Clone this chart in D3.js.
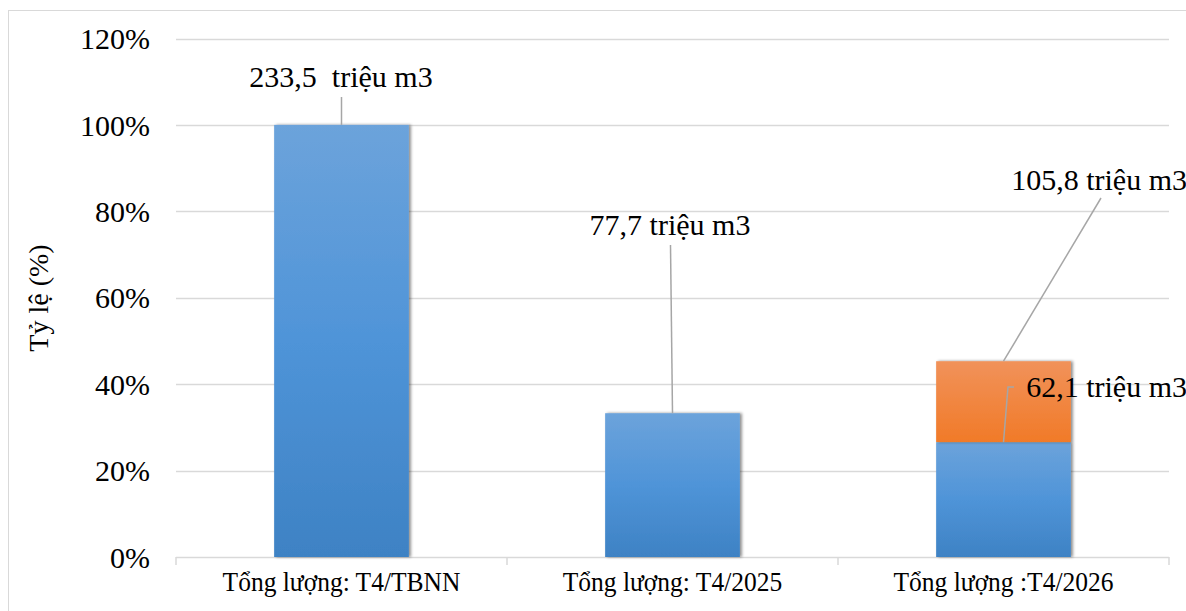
<!DOCTYPE html>
<html><head><meta charset="utf-8">
<script src="https://cdn.jsdelivr.net/npm/d3@7"></script>
<style>body{margin:0;background:#fff}svg{display:block}</style>
</head><body><svg id="c" width="1186" height="611"></svg>
<script>
const categories = ["Tổng lượng: T4/TBNN", "Tổng lượng: T4/2025", "Tổng lượng :T4/2026"];
const volumes = [233.5, 77.7, 62.1];          // triệu m3, blue series
const totalT4_2026 = 105.8;                    // triệu m3, orange top of stack
const baseVolume = 233.5;
const blueLabels = ["233,5  triệu m3", "77,7 triệu m3", "62,1 triệu m3"];
const orangeLabel = "105,8 triệu m3";
const yTicks = [0, 0.2, 0.4, 0.6, 0.8, 1.0, 1.2];

(function(){
const FF = "'Liberation Serif', 'Times New Roman', serif";
const bluePct = volumes.map(v => v / baseVolume);
const orangeTopPct = totalT4_2026 / baseVolume;

const svg = d3.select("#c");
const defs = svg.append("defs");
const gb = defs.append("linearGradient").attr("id","gb").attr("x1",0).attr("y1",0).attr("x2",0).attr("y2",1);
gb.append("stop").attr("offset","0").attr("stop-color","#6ca3db");
gb.append("stop").attr("offset","0.5").attr("stop-color","#4f94d8");
gb.append("stop").attr("offset","1").attr("stop-color","#3e82c4");
const go = defs.append("linearGradient").attr("id","go").attr("x1",0).attr("y1",0).attr("x2",0).attr("y2",1);
go.append("stop").attr("offset","0").attr("stop-color","#f1925a");
go.append("stop").attr("offset","1").attr("stop-color","#f17a28");
const sh = defs.append("filter").attr("id","sh").attr("x","-10%").attr("y","-10%").attr("width","130%").attr("height","120%");
sh.append("feDropShadow").attr("dx",2).attr("dy",0).attr("stdDeviation",1.5).attr("flood-color","#000").attr("flood-opacity",0.45);

svg.append("rect").attr("x",8.5).attr("y",10.5).attr("width",1190).attr("height",620).attr("fill","none").attr("stroke","#d9d9d9");

const pL = 176, pR = 1169, pT = 38.5, pB = 557;
const x = d3.scaleBand().domain(categories).range([pL, pR]).paddingInner(0.593).paddingOuter(0.2965);
const y = d3.scaleLinear().domain([0, 1.2]).range([pB, pT]);

svg.append("g").selectAll("line").data(yTicks.slice(1)).join("line")
  .attr("x1", pL).attr("x2", pR).attr("y1", d => Math.round(y(d))+0.5).attr("y2", d => Math.round(y(d))+0.5)
  .attr("stroke","#d9d9d9").attr("stroke-width",1.5);

const yAxis = d3.axisLeft(y).tickValues(yTicks).tickFormat(d => Math.round(d*100) + "%").tickSize(0).tickPadding(26);
const ya = svg.append("g").attr("transform",`translate(${pL},0)`).call(yAxis)
  .attr("font-family", FF).attr("font-size", 30);
ya.select(".domain").remove();
ya.selectAll("text").attr("fill","#000").attr("dy","0.34em");

const band = (pR-pL)/3;
const xa = svg.append("g");
xa.append("line").attr("x1",pL).attr("x2",pR).attr("y1",pB+0.5).attr("y2",pB+0.5).attr("stroke","#d9d9d9").attr("stroke-width",1.5);
xa.selectAll("line.t").data(d3.range(4)).join("line").attr("class","t")
  .attr("x1", i => pL + i*band).attr("x2", i => pL + i*band)
  .attr("y1", pB).attr("y2", pB+8).attr("stroke","#d9d9d9").attr("stroke-width",1.5);
xa.selectAll("text").data(categories).join("text")
  .attr("transform", d => `translate(${x(d)+x.bandwidth()/2},591) scale(1,1.1)`)
  .attr("text-anchor","middle").attr("font-family",FF).attr("font-size",25.5).attr("fill","#000").text(d => d);

svg.append("text").attr("transform","translate(48,298) rotate(-90)").attr("text-anchor","middle")
  .attr("font-family",FF).attr("font-size",28).attr("fill","#000").text("Tỷ lệ (%)");

const bw = x.bandwidth();
svg.append("g").selectAll("rect").data(categories).join("rect")
  .attr("x", d => x(d)).attr("width", bw)
  .attr("y", (d,i) => y(bluePct[i])).attr("height", (d,i) => pB - y(bluePct[i]))
  .attr("fill","url(#gb)").attr("filter","url(#sh)");
svg.append("rect").attr("x", x(categories[2])).attr("width", bw)
  .attr("y", y(orangeTopPct)).attr("height", y(bluePct[2]) - y(orangeTopPct))
  .attr("fill","url(#go)").attr("filter","url(#sh)");

const lc = "#a6a6a6";
const cx = i => x(categories[i]) + bw/2;
const g = svg.append("g").attr("stroke",lc).attr("stroke-width",1.5).attr("fill","none");
g.append("line").attr("x1",cx(0)).attr("x2",cx(0)).attr("y1",97).attr("y2",y(bluePct[0]));
g.append("line").attr("x1",cx(1)-2).attr("x2",cx(1)).attr("y1",245).attr("y2",y(bluePct[1]));
g.append("line").attr("x1",1101).attr("x2",cx(2)).attr("y1",198).attr("y2",y(orangeTopPct));
g.append("polyline").attr("points",`1014,387 1008,387 ${cx(2)},${y(bluePct[2])}`);

const lab = (t,xx,yy,anchor) => svg.append("text").attr("x",xx).attr("y",yy).attr("text-anchor",anchor||"middle")
  .attr("font-family",FF).attr("font-size",30).attr("fill","#000").style("white-space","pre").text(t);
lab(blueLabels[0], 341, 87);
lab(blueLabels[1], 670, 235);
lab(orangeLabel, 1187, 190, "end");
lab(blueLabels[2], 1187, 397, "end");
})();
</script></body></html>
